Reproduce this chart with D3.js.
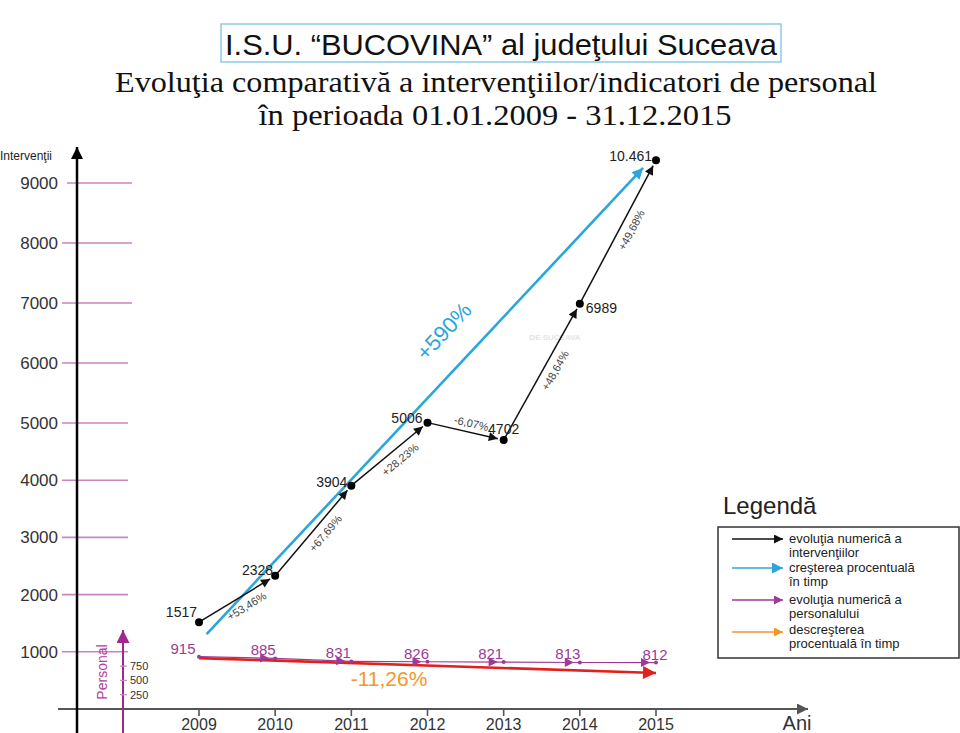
<!DOCTYPE html>
<html><head><meta charset="utf-8">
<script src="https://cdn.jsdelivr.net/npm/d3@7"></script>
<style>body{margin:0;background:#fff} svg{display:block}</style>
</head><body><svg id="c" width="960" height="733"></svg>
<script>
// ---- data ----
const years = [2009, 2010, 2011, 2012, 2013, 2014, 2015];
const interventions = [1517, 2328, 3904, 5006, 4702, 6989, 10461];
const interventionLabels = ["1517", "2328", "3904", "5006", "4702", "6989", "10.461"];
const changeLabels = ["+53,46%", "+67,69%", "+28,23%", "-6,07%", "+48,64%", "+49,68%"];
const personnel = [915, 885, 831, 826, 821, 813, 812];
const yTicks = [1000, 2000, 3000, 4000, 5000, 6000, 7000, 8000, 9000];
const personnelTicks = [250, 500, 750];
const growthArrow = [[2009.1, 1310], [2014.83, 9970]];
const growthLabel = "+590%";
const decreaseArrow = [[2009, 890], [2015, 630]];
const decreaseLabel = "-11,26%";
const legendItems = [
  ["evoluţia numerică a", "intervenţiilor"],
  ["creşterea procentuală", "în timp"],
  ["evoluţia numerică a", "personalului"],
  ["descreşterea", "procentuală în timp"]
];
const titleText = "I.S.U. “BUCOVINA” al judeţului Suceava";
const subtitleLines = ["Evoluţia comparativă a intervenţiilor/indicatori de personal", "în perioada 01.01.2009 - 31.12.2015"];

// ---- styles ----
const SANS = "'Liberation Sans', Arial, sans-serif";
const SERIF = "'Liberation Serif', 'Times New Roman', serif";
const C = {black: "#111", blue: "#2aa6da", purple: "#9c3a96", orange: "#f5962a", red: "#e3201b", tick: "#c985bf"};

const svg = d3.select("#c");
const x = d3.scaleLinear().domain([2009, 2015]).range([199, 656]);
const y = d3.scaleLinear().domain([0, 5000, 9000, 11000]).range([709, 423, 183, 152]);

// markers
const defs = svg.append("defs");
function marker(id, color, w, h) {
  defs.append("marker").attr("id", id).attr("markerUnits", "userSpaceOnUse")
    .attr("viewBox", "0 0 10 10").attr("refX", 10).attr("refY", 5)
    .attr("markerWidth", w).attr("markerHeight", h).attr("orient", "auto")
    .append("path").attr("d", "M0,0L10,5L0,10Z").attr("fill", color);
}
marker("mBlack", C.black, 11, 9);
marker("mBlue", C.blue, 13, 11);
marker("mPurple", C.purple, 10, 9);
marker("mOrange", C.orange, 10, 9);
marker("mRed", C.red, 16, 13);
marker("mAxis", "#555", 14, 11);
marker("mAxisK", "#000", 14, 12);
marker("mPers", "#a0288c", 14, 13);

// ---- title ----
svg.append("rect").attr("x", 221).attr("y", 24).attr("width", 560).attr("height", 38)
  .attr("fill", "none").attr("stroke", "#7cc3e4").attr("stroke-width", 1.3);
svg.append("text").attr("x", 501).attr("y", 55).attr("text-anchor", "middle")
  .attr("font-family", SANS).attr("font-size", 30).attr("fill", "#111")
  .attr("textLength", 552).attr("lengthAdjust", "spacingAndGlyphs").text(titleText);
svg.append("text").attr("x", 496).attr("y", 92).attr("text-anchor", "middle")
  .attr("font-family", SERIF).attr("font-size", 29).attr("fill", "#111")
  .attr("textLength", 762).attr("lengthAdjust", "spacingAndGlyphs").text(subtitleLines[0]);
svg.append("text").attr("x", 495).attr("y", 125).attr("text-anchor", "middle")
  .attr("font-family", SERIF).attr("font-size", 29).attr("fill", "#111")
  .attr("textLength", 473).attr("lengthAdjust", "spacingAndGlyphs").text(subtitleLines[1]);

// ---- y ticks (pink) ----
const gy = svg.append("g");
gy.selectAll("line").data(yTicks).join("line")
  .attr("x1", d => d === 9000 ? 67 : 62).attr("x2", d => d >= 7000 ? 132 : 128)
  .attr("y1", d => y(d)).attr("y2", d => y(d))
  .attr("stroke", C.tick).attr("stroke-width", 1.6);
gy.selectAll("text").data(yTicks).join("text")
  .attr("x", 58).attr("y", d => y(d) + 6).attr("text-anchor", "end")
  .attr("font-family", SANS).attr("font-size", 17).attr("fill", "#333").text(d => d);

// ---- x axis ----
svg.append("line").attr("x1", 58).attr("x2", 808).attr("y1", y(0)).attr("y2", y(0))
  .attr("stroke", "#555").attr("stroke-width", 2).attr("marker-end", "url(#mAxis)");
const gx = svg.append("g");
gx.selectAll("line").data(years).join("line")
  .attr("x1", d => x(d)).attr("x2", d => x(d)).attr("y1", y(0)).attr("y2", y(0) + 7)
  .attr("stroke", "#555").attr("stroke-width", 1.6);
gx.selectAll("text").data(years).join("text")
  .attr("x", d => x(d)).attr("y", 730).attr("text-anchor", "middle")
  .attr("font-family", SANS).attr("font-size", 16).attr("fill", "#333").text(d => d);
svg.append("text").attr("x", 797).attr("y", 730).attr("text-anchor", "middle")
  .attr("font-family", SANS).attr("font-size", 20).attr("fill", "#333").text("Ani");

// ---- main y axis ----
svg.append("line").attr("x1", 77).attr("x2", 77).attr("y1", 733).attr("y2", 147)
  .attr("stroke", "#000").attr("stroke-width", 2.5).attr("marker-end", "url(#mAxisK)");
svg.append("text").attr("x", 0).attr("y", 160)
  .attr("font-family", SANS).attr("font-size", 12).attr("fill", "#222").text("Intervenţii");

// ---- personnel sub-axis ----
svg.append("line").attr("x1", 123).attr("x2", 123).attr("y1", 733).attr("y2", 630)
  .attr("stroke", "#a0288c").attr("stroke-width", 2).attr("marker-end", "url(#mPers)");
svg.selectAll(".pt").data(personnelTicks).join("line").attr("class", "pt")
  .attr("x1", 120).attr("x2", 127).attr("y1", d => y(d)).attr("y2", d => y(d))
  .attr("stroke", C.tick).attr("stroke-width", 1.2);
svg.selectAll(".ptl").data(personnelTicks).join("text").attr("class", "ptl")
  .attr("x", 130).attr("y", d => y(d) + 4)
  .attr("font-family", SANS).attr("font-size", 11).attr("fill", "#333").text(d => d);
svg.append("text").attr("transform", "translate(107,672) rotate(-90)").attr("text-anchor", "middle")
  .attr("font-family", SANS).attr("font-size", 14).attr("fill", "#b0409c").text("Personal");

// ---- growth arrow (blue) ----
const g0 = [x(growthArrow[0][0]), y(growthArrow[0][1])];
const g1 = [x(growthArrow[1][0]), y(growthArrow[1][1])];
svg.append("line").attr("x1", g0[0]).attr("y1", g0[1]).attr("x2", g1[0]).attr("y2", g1[1])
  .attr("stroke", C.blue).attr("stroke-width", 2.6).attr("marker-end", "url(#mBlue)");
{
  const ang = Math.atan2(g1[1] - g0[1], g1[0] - g0[0]);
  const t = 0.6;
  const mx = g0[0] + (g1[0] - g0[0]) * t, my = g0[1] + (g1[1] - g0[1]) * t;
  const nx = Math.sin(ang), ny = -Math.cos(ang); // normal pointing up-left
  svg.append("text").attr("transform", `translate(${mx + nx * 34},${my + ny * 34}) rotate(${ang * 180 / Math.PI})`)
    .attr("text-anchor", "middle").attr("dy", "0.35em")
    .attr("font-family", SANS).attr("font-size", 22).attr("fill", C.blue).text(growthLabel);
}

// watermark
svg.append("text").attr("x", 555).attr("y", 340).attr("text-anchor", "middle")
  .attr("font-family", SANS).attr("font-size", 8).attr("font-weight", "bold").attr("fill", "#e4e4e4").text("DE SUCEAVA");

// ---- interventions (black) ----
const pts = years.map((yr, i) => [x(yr), y(interventions[i])]);
const gs = svg.append("g");
for (let i = 0; i < pts.length - 1; i++) {
  const [ax, ay] = pts[i], [bx, by] = pts[i + 1];
  const L = Math.hypot(bx - ax, by - ay);
  const ux = (bx - ax) / L, uy = (by - ay) / L;
  gs.append("line").attr("x1", ax).attr("y1", ay).attr("x2", bx - ux * 6).attr("y2", by - uy * 6)
    .attr("stroke", C.black).attr("stroke-width", 1.5).attr("marker-end", "url(#mBlack)");
  const ang = Math.atan2(by - ay, bx - ax) * 180 / Math.PI;
  const down = uy < 0; // rising segment -> label below right
  const nx = down ? -uy : uy, ny = down ? ux : -ux;
  const t = 0.55;
  const mx = ax + (bx - ax) * t, my = ay + (by - ay) * t;
  const off = down ? 11 : 9;
  gs.append("text").attr("transform", `translate(${mx + nx * off},${my + ny * off}) rotate(${ang})`)
    .attr("text-anchor", "middle").attr("dy", "0.35em")
    .attr("font-family", SANS).attr("font-size", 11).attr("fill", "#444").text(changeLabels[i]);
}
gs.selectAll("circle").data(pts).join("circle").attr("cx", d => d[0]).attr("cy", d => d[1])
  .attr("r", 4).attr("fill", "#000");
const labPos = [[-2, -5, "end"], [-2, -1, "end"], [-4, 1, "end"], [-5, 0, "end"], [0, -6, "middle"], [6, 9, "start"], [-4, 1, "end"]];
gs.selectAll("text.v").data(pts).join("text").attr("class", "v")
  .attr("x", (d, i) => d[0] + labPos[i][0]).attr("y", (d, i) => d[1] + labPos[i][1])
  .attr("text-anchor", (d, i) => labPos[i][2])
  .attr("font-family", SANS).attr("font-size", 14).attr("fill", "#222")
  .text((d, i) => interventionLabels[i]);

// ---- decrease arrow (red) ----
svg.append("line").attr("x1", x(decreaseArrow[0][0])).attr("y1", y(decreaseArrow[0][1]))
  .attr("x2", x(decreaseArrow[1][0])).attr("y2", y(decreaseArrow[1][1]))
  .attr("stroke", C.red).attr("stroke-width", 2.6).attr("marker-end", "url(#mRed)");
svg.append("text").attr("x", 389).attr("y", 686).attr("text-anchor", "middle")
  .attr("font-family", SANS).attr("font-size", 21).attr("fill", C.orange).text(decreaseLabel);

// ---- personnel (purple) ----
const pp = years.map((yr, i) => [x(yr), y(personnel[i])]);
const gp = svg.append("g");
for (let i = 0; i < pp.length - 1; i++) {
  const [ax, ay] = pp[i], [bx, by] = pp[i + 1];
  gp.append("line").attr("x1", ax).attr("y1", ay).attr("x2", bx).attr("y2", by)
    .attr("stroke", C.purple).attr("stroke-width", 1.2);
  gp.append("line").attr("x1", ax).attr("y1", ay).attr("x2", bx - 6).attr("y2", ay + (by - ay) * (1 - 6 / (bx - ax)))
    .attr("stroke", "none").attr("marker-end", "url(#mPurple)");
}
gp.selectAll("circle").data(pp).join("circle").attr("cx", d => d[0]).attr("cy", d => d[1])
  .attr("r", 2).attr("fill", C.purple);
const pOff = [-16, -12, -13, -11, -13, -12, -1];
gp.selectAll("text").data(pp).join("text")
  .attr("x", (d, i) => d[0] + pOff[i]).attr("y", (d, i) => d[1] - 3)
  .attr("text-anchor", "middle").attr("font-family", SANS).attr("font-size", 15)
  .attr("fill", C.purple).text((d, i) => personnel[i]);

// ---- legend ----
svg.append("text").attr("x", 723).attr("y", 514).attr("font-family", SANS).attr("font-size", 24)
  .attr("fill", "#222").text("Legendă");
svg.append("rect").attr("x", 718).attr("y", 527).attr("width", 241).attr("height", 131)
  .attr("fill", "#fff").attr("stroke", "#333").attr("stroke-width", 1.5);
const legColors = [C.black, C.blue, C.purple, C.orange];
const legMarkers = ["mBlack", "mBlue", "mPurple", "mOrange"];
const legY = [539, 568, 600, 632];
legendItems.forEach((lines, i) => {
  svg.append("line").attr("x1", 732).attr("x2", 783).attr("y1", legY[i]).attr("y2", legY[i])
    .attr("stroke", legColors[i]).attr("stroke-width", 1.5).attr("marker-end", `url(#${legMarkers[i]})`);
  lines.forEach((t, j) => {
    svg.append("text").attr("x", 789).attr("y", legY[i] + 4 + j * 14 + (i === 3 ? -2 : 0))
      .attr("font-family", SANS).attr("font-size", 13).attr("fill", "#222").text(t);
  });
});
</script></body></html>
